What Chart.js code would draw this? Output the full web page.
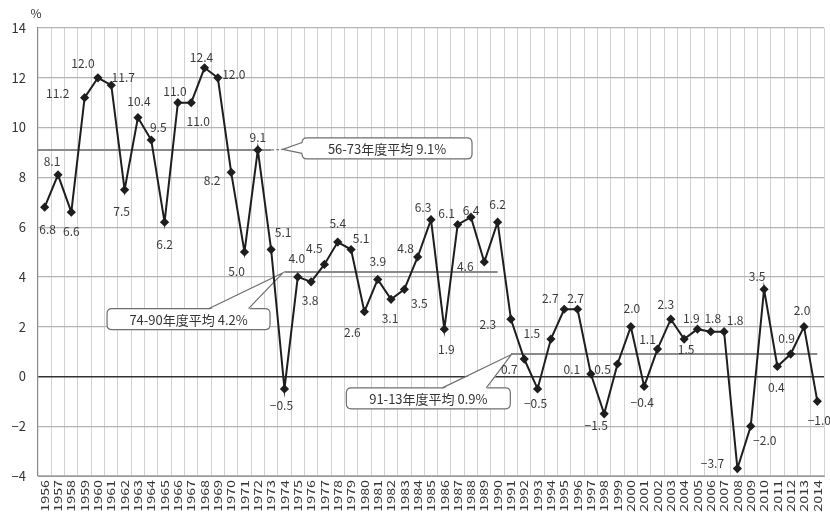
<!DOCTYPE html>
<html>
<head>
<meta charset="utf-8">
<script src="https://cdn.jsdelivr.net/npm/chart.js@4"></script>
<style>
  html,body{margin:0;padding:0;background:#fff;}
  #wrap{width:830px;height:516px;position:relative;}
</style>
</head>
<body>
<div id="wrap"><canvas id="gdp"></canvas></div>
<script>
/* ---------- data ---------- */
const years = ['1956','1957','1958','1959','1960','1961','1962','1963','1964','1965',
  '1966','1967','1968','1969','1970','1971','1972','1973','1974','1975',
  '1976','1977','1978','1979','1980','1981','1982','1983','1984','1985',
  '1986','1987','1988','1989','1990','1991','1992','1993','1994','1995',
  '1996','1997','1998','1999','2000','2001','2002','2003','2004','2005',
  '2006','2007','2008','2009','2010','2011','2012','2013','2014'];

const growth = [6.8,8.1,6.6,11.2,12.0,11.7,7.5,10.4,9.5,6.2,
  11.0,11.0,12.4,12.0,8.2,5.0,9.1,5.1,-0.5,4.0,
  3.8,4.5,5.4,5.1,2.6,3.9,3.1,3.5,4.8,6.3,
  1.9,6.1,6.4,4.6,6.2,2.3,0.7,-0.5,1.5,2.7,
  2.7,0.1,-1.5,0.5,2.0,-0.4,1.1,2.3,1.5,1.9,
  1.8,1.8,-3.7,-2.0,3.5,0.4,0.9,2.0,-1.0];

const yTicks = [14,12,10,8,6,4,2,0,-2,-4];

/* period averages */
const avgValues = [9.1, 4.2, 0.9];
const avgLabels = ['56-73年度平均 9.1%','74-90年度平均 4.2%','91-13年度平均 0.9%'];
const avgFrom   = ['1956','1974','1991'];
const avgTo     = ['1973','1990','2014'];

/* ---------- layout / style (not data) ---------- */
// label centre offset from its point, px
const labelOff = [
  [3,22],[-6,-13],[0,19],[-27,-4],[-15,-14],[12,-8],[-3,22],[1,-16],[7,-13],[0,22],
  [-3,-11],[7,19],[-3,-10],[16,-3],[-19,8],[-8,19],[0,-13],[12,-17],[-3,17],[-1,-18],
  [-1,19],[-10,-16],[0,-19],[10,-11],[-12,21],[0,-18],[-1,19],[15,14],[-12,-9],[-8,-12],
  [2,20],[-11,-11],[0,-7],[-19,4],[0,-18],[-23,5],[-15,10],[-2,15],[-19,-6],[-14,-11],
  [-2,-11],[-19,-5],[-8,12],[-15,5],[1,-18],[-2,16],[-10,-10],[-5,-15],[2,10],[-6,-11],
  [2,-13],[11,-11],[-25,-5],[14,14],[-7,-13],[-1,21],[-4,-16],[-2,-16],[2,19]
];
// callout boxes: centre (category index, value), tip (index, value)
const callouts = [
  {cx:25.7, cy:9.16, w:170, h:21, tip:[17.87,9.12], side:'left', base:[-6,5], dashFrom:17},
  {cx:10.8, cy:2.3,  w:163, h:21, tip:[17.87,4.16], side:'top',  base:[20,60]},
  {cx:28.8, cy:-0.88,w:164, h:21, tip:[35.03,0.88], side:'top',  base:[14,58]}
];

const FONT = '"Noto Sans CJK JP", "Noto Sans", sans-serif';
const ink  = '#333';

function roundRect(ctx,x,y,w,h,r){
  ctx.beginPath();
  ctx.moveTo(x+r,y); ctx.lineTo(x+w-r,y); ctx.quadraticCurveTo(x+w,y,x+w,y+r);
  ctx.lineTo(x+w,y+h-r); ctx.quadraticCurveTo(x+w,y+h,x+w-r,y+h);
  ctx.lineTo(x+r,y+h); ctx.quadraticCurveTo(x,y+h,x,y+h-r);
  ctx.lineTo(x,y+r); ctx.quadraticCurveTo(x,y,x+r,y);
  ctx.closePath();
}

/* average lines + callouts, under the data line */
const avgPlugin = {
  id:'avg',
  beforeDatasetsDraw(chart){
    const {ctx, scales:{x,y}, chartArea:a} = chart;
    ctx.save();
    ctx.strokeStyle = '#8a8a8a'; ctx.lineWidth = 2;
    avgValues.forEach((v,i)=>{
      const x0 = i===0 ? a.left : x.getPixelForValue(years.indexOf(avgFrom[i]));
      const x1 = x.getPixelForValue(years.indexOf(avgTo[i]));
      const py = y.getPixelForValue(v);
      ctx.beginPath(); ctx.moveTo(x0,py); ctx.lineTo(x1,py); ctx.stroke();
    });
    // callouts
    callouts.forEach((c,i)=>{
      const cx = x.getPixelForValue(c.cx), cy = y.getPixelForValue(c.cy);
      const tx = x.getPixelForValue(c.tip[0]), ty = y.getPixelForValue(c.tip[1]);
      const left = cx - c.w/2, top = cy - c.h/2;
      if(c.dashFrom!==undefined){
        ctx.save();
        ctx.setLineDash([3,2]); ctx.strokeStyle='#777'; ctx.lineWidth=1.2;
        ctx.beginPath(); ctx.moveTo(x.getPixelForValue(c.dashFrom), y.getPixelForValue(avgValues[i]));
        ctx.lineTo(tx,ty); ctx.stroke();
        ctx.restore();
      }
      ctx.fillStyle='#fff'; ctx.strokeStyle='#6f6f6f'; ctx.lineWidth=1.2;
      roundRect(ctx,left,top,c.w,c.h,5);
      ctx.fill(); ctx.stroke();
      let b0,b1;
      if(c.side==='top'){ b0=[cx+c.base[0],top]; b1=[cx+c.base[1],top]; }
      else { b0=[left,cy+c.base[0]]; b1=[left,cy+c.base[1]]; }
      // cover border between base points
      ctx.beginPath();
      if(c.side==='top'){ ctx.moveTo(b0[0],b0[1]+1.5); ctx.lineTo(tx,ty); ctx.lineTo(b1[0],b1[1]+1.5); }
      else { ctx.moveTo(b0[0]+1.5,b0[1]); ctx.lineTo(tx,ty); ctx.lineTo(b1[0]+1.5,b1[1]); }
      ctx.closePath(); ctx.fill();
      ctx.beginPath(); ctx.moveTo(b0[0],b0[1]); ctx.lineTo(tx,ty); ctx.lineTo(b1[0],b1[1]); ctx.stroke();
      ctx.fillStyle=ink; ctx.font=`13px ${FONT}`;
      ctx.textAlign='center'; ctx.textBaseline='middle';
      ctx.fillText(avgLabels[i],cx,cy+1);
    });
    ctx.restore();
  },
  afterDraw(chart){
    const {ctx, scales:{x,y}, chartArea:a} = chart;
    ctx.save();
    // value labels
    ctx.fillStyle='#3a3a3a'; ctx.font=`12px ${FONT}`;
    ctx.textAlign='center'; ctx.textBaseline='middle';
    growth.forEach((v,i)=>{
      const px=x.getPixelForValue(i), py=y.getPixelForValue(v);
      ctx.fillText(v.toFixed(1).replace('-','−'), px+labelOff[i][0], py+labelOff[i][1]);
    });
    // vertical year labels
    ctx.fillStyle=ink; ctx.font=`11px ${FONT}`;
    years.forEach((t,i)=>{
      ctx.save();
      ctx.translate(x.getPixelForValue(i), a.bottom+4);
      ctx.rotate(-Math.PI/2);
      ctx.scale(1.3,1);
      ctx.textAlign='right'; ctx.textBaseline='middle';
      ctx.fillText(t,0,0);
      ctx.restore();
    });
    // % unit
    ctx.font=`12px ${FONT}`; ctx.textAlign='center';
    ctx.fillText('%', a.left-2, 13);
    ctx.restore();
  }
};

new Chart(document.getElementById('gdp'),{
  type:'line',
  data:{
    labels:years,
    datasets:[{
      data:growth,
      borderColor:'#1e1e1e', borderWidth:2,
      pointStyle:'rectRot', pointRadius:3.2,
      pointBackgroundColor:'#1e1e1e', pointBorderColor:'#1e1e1e',
      tension:0
    }]
  },
  options:{
    responsive:true, maintainAspectRatio:false, animation:false,
    layout:{padding:{top:28,right:5,left:0,bottom:0}},
    plugins:{legend:{display:false}, tooltip:{enabled:false}},
    scales:{
      x:{
        offset:true,
        grid:{offset:true, color:'#d2d2d2', lineWidth:1, drawTicks:false},
        border:{color:'#999'},
        ticks:{display:false},
        afterFit:s=>{ s.height = 40; }
      },
      y:{
        min:-4, max:14,
        afterBuildTicks:s=>{ s.ticks = yTicks.map(v=>({value:v})); },
        grid:{
          drawTicks:false,
          color:c=> c.tick && c.tick.value===0 ? '#333' : '#b4b4b4',
          lineWidth:c=> c.tick && c.tick.value===0 ? 1.5 : 1.2
        },
        border:{color:'#888', width:1.2},
        ticks:{color:ink, padding:12, font:{family:FONT,size:13},
               callback:v=> String(v).replace('-','−')},
        afterFit:s=>{ s.width = 38; }
      }
    }
  },
  plugins:[avgPlugin]
});
</script>
</body>
</html>
